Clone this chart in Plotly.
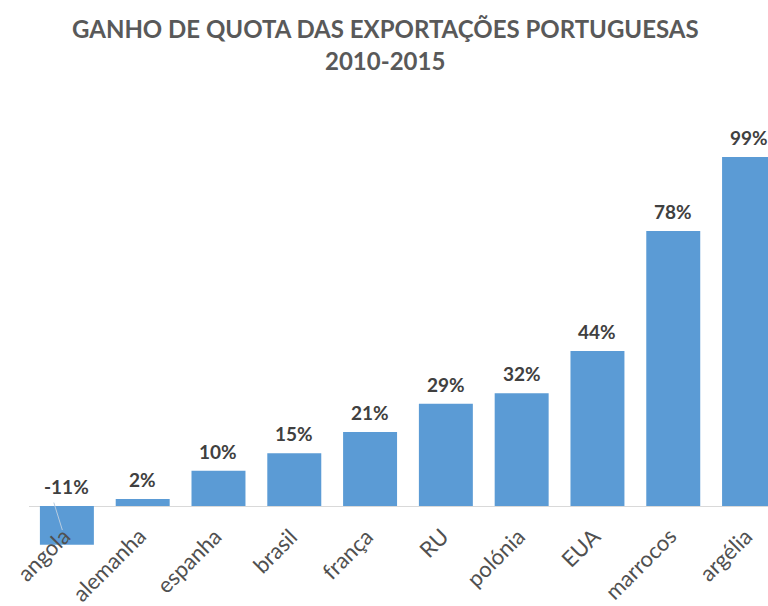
import plotly.graph_objects as go

categories = ["angola", "alemanha", "espanha", "brasil", "frança", "RU", "polónia", "EUA", "marrocos", "argélia"]
values = [-11, 2, 10, 15, 21, 29, 32, 44, 78, 99]
title_line1 = "GANHO DE QUOTA DAS EXPORTAÇÕES PORTUGUESAS"
title_line2 = "2010-2015"

BAR = "#5B9BD5"
FONT = "Lato, 'Liberation Sans', Arial, sans-serif"

fig = go.Figure()
fig.add_trace(go.Bar(x=list(range(len(categories))), y=values, marker_color=BAR,
                     marker_line_width=0, hoverinfo="skip"))

annotations = []
for i, (c, v) in enumerate(zip(categories, values)):
    annotations.append(dict(x=i, y=max(v, 0), xref="x", yref="y", text=f"<b>{v}%</b>",
                            showarrow=False, yanchor="bottom", xanchor="center", yshift=6,
                            font=dict(family=FONT, size=19, color="#404040")))
    annotations.append(dict(x=i, y=0, xref="x", yref="y", text=c, textangle=-45,
                            showarrow=False, xanchor="right", yanchor="top",
                            xshift=11, yshift=-14,
                            font=dict(family=FONT, size=22, color="#505050")))

# faint leader line of the negative bar's label
annotations.append(dict(x=-0.06, y=values[0] * 0.62, xref="x", yref="y", text="",
                        showarrow=True, arrowhead=0, arrowwidth=1, arrowcolor="#B8CCE0",
                        ax=-9, ay=-29, axref="pixel", ayref="pixel"))

annotations.append(dict(x=0.482, y=1.154, xref="paper", yref="paper", text=f"<b>{title_line1}</b>",
                        showarrow=False, xanchor="center", yanchor="middle",
                        font=dict(family=FONT, size=24, color="#595959")))
annotations.append(dict(x=0.482, y=1.0855, xref="paper", yref="paper", text=f"<b>{title_line2}</b>",
                        showarrow=False, xanchor="center", yanchor="middle",
                        font=dict(family=FONT, size=24, color="#595959")))

fig.update_layout(
    width=768, height=606,
    margin=dict(l=29, r=0, t=100, b=40),
    paper_bgcolor="white", plot_bgcolor="white",
    showlegend=False,
    bargap=0.288,
    annotations=annotations,
    xaxis=dict(range=[-0.5, 9.25], showticklabels=False, showgrid=False, zeroline=False,
               showline=False, ticks=""),
    yaxis=dict(range=[-17.02, 115.18], showticklabels=False, showgrid=False,
               zeroline=True, zerolinecolor="#D9D9D9", zerolinewidth=1, showline=False, ticks=""),
)

fig.write_html("out.html", config={"displayModeBar": False},
               post_script="document.body.style.margin='0';document.body.style.overflow='hidden';")
